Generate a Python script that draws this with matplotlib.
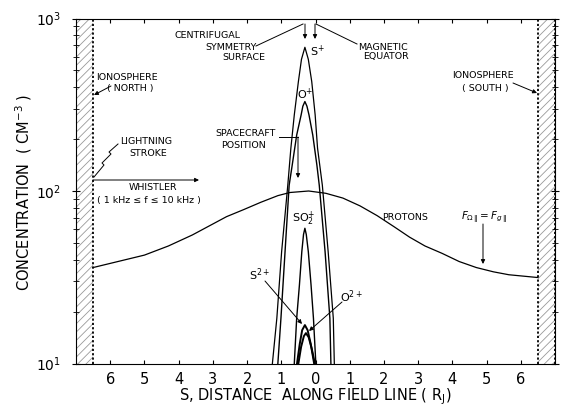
import matplotlib
matplotlib.use('Agg')
import matplotlib.pyplot as plt
from matplotlib.lines import Line2D
from matplotlib.ticker import LogLocator, NullFormatter

W, H = 562, 408

# ---- data ----
proton_s = [-6.5, -5.0, -4.3, -3.6, -2.6, -2.1, -1.6, -1.1, -0.75, -0.2, 0.3, 0.8,
            1.3, 1.8, 2.3, 2.75, 3.2, 3.7, 4.2, 4.7, 5.2, 5.65, 6.5]
proton_n = [36, 42.5, 48, 55.6, 71, 78, 86, 94, 98, 100, 97, 91,
            82, 72, 62, 54, 48, 43.5, 39, 36, 34, 32.7, 31.5]

splus_s = [-1.26, -1.13, -0.99, -0.81, -0.72, -0.62, -0.50, -0.41, -0.31, -0.21,
           -0.11, -0.01, 0.06, 0.20, 0.37, 0.52, 0.55]
splus_n = [10, 18.3, 44.5, 108, 177, 276, 431, 580, 681, 580,
           431, 276, 177, 108, 44.5, 18.3, 10]

oplus_s = [-1.10, -1.01, -0.89, -0.77, -0.68, -0.55, -0.42, -0.37, -0.31, -0.25,
           -0.19, -0.08, 0.04, 0.11, 0.28, 0.42, 0.45]
oplus_n = [10, 18.3, 44.5, 108, 141.6, 211, 276, 310, 330, 310,
           276, 211, 141.6, 108, 44.5, 18.3, 10]

so2_s = [-0.62, -0.55, -0.47, -0.40, -0.35, -0.31, -0.27, -0.21, -0.13, -0.06, 0.01]
so2_n = [10, 18.3, 28.5, 44.5, 56, 60.8, 56, 44.5, 28.5, 18.3, 10]

s2_s = [-0.54, -0.46, -0.39, -0.31, -0.23, -0.14, -0.04]
s2_n = [10, 13, 15.6, 16.7, 15.6, 13, 10]

o2_s = [-0.50, -0.42, -0.34, -0.28, -0.20, -0.11, -0.02]
o2_n = [10, 12.5, 14.4, 15, 14.2, 12.2, 10]

xtick_pos = [-6, -5, -4, -3, -2, -1, 0, 1, 2, 3, 4, 5, 6]
xtick_labels = ['6', '5', '4', '3', '2', '1', '0', '1', '2', '3', '4', '5', '6']
ytick_pos = [10, 100, 1000]
ytick_labels = ['$10^{1}$', '$10^{2}$', '$10^{3}$']

iono_north = (-7.0, -6.5)
iono_south = (6.5, 7.0)

# ---- styling ----
FONT = ['DejaVu Sans']
plt.rcParams['font.family'] = FONT
plt.rcParams['mathtext.fontset'] = 'dejavusans'
plt.rcParams['hatch.color'] = '#9a9a9a'
plt.rcParams['hatch.linewidth'] = 0.6

fig = plt.figure(figsize=(W / 100, H / 100), dpi=100)
ax = fig.add_axes([76 / W, 1 - 363.5 / H, (555 - 76) / W, (363.5 - 18.5) / H])

ax.set_yscale('log')
ax.set_xlim(-7, 7)
ax.set_ylim(10, 1000)

# ionosphere bands
for lo, hi in (iono_north, iono_south):
    ax.axvspan(lo, hi, facecolor='white', hatch='////', edgecolor='#9a9a9a', lw=0)
    ax.axvline(lo, color='black', ls=(0, (1.2, 1.2)), lw=1.3)
    ax.axvline(hi, color='black', ls=(0, (1.2, 1.2)), lw=1.3)

lw = 0.9
ax.plot(proton_s, proton_n, color='black', lw=lw)
ax.plot(splus_s, splus_n, color='black', lw=lw)
ax.plot(oplus_s, oplus_n, color='black', lw=1.0)
ax.plot(so2_s, so2_n, color='black', lw=1.0)
ax.plot(s2_s, s2_n, color='black', lw=1.4)
ax.plot(o2_s, o2_n, color='black', lw=1.4)

ax.set_xticks(xtick_pos)
ax.set_xticklabels(xtick_labels, fontsize=10.5)
ax.set_yticks(ytick_pos)
ax.set_yticklabels(ytick_labels, fontsize=10)
ax.yaxis.set_minor_locator(LogLocator(base=10, subs=range(2, 10)))
ax.yaxis.set_minor_formatter(NullFormatter())
ax.tick_params(axis='x', which='both', direction='in', top=True, length=3, pad=6)
ax.tick_params(axis='y', which='major', direction='inout', right=True, length=6, pad=8)
ax.tick_params(axis='y', which='minor', direction='inout', right=True, length=4)
for sp in ax.spines.values():
    sp.set_linewidth(0.8)


def F(px, py):
    return (px / W, 1 - py / H)


fig.text(*F(315, 397), 'S, DISTANCE  ALONG FIELD LINE ( R$_{\\mathrm{J}}$)',
         ha='center', va='center', fontsize=10.5)
fig.text(*F(24, 192), 'CONCENTRATION  ( CM$^{-3}$ )', rotation=90,
         ha='center', va='center', fontsize=10.5)


def txt(px, py, s, size=6.8, ha='center'):
    fig.text(*F(px, py), s, ha=ha, va='center', fontsize=size)


def line(pts, arrow=False, lw=0.7):
    if arrow:
        xs = [F(*p) for p in pts]
        for a, b in zip(xs[:-2], xs[1:-1]):
            fig.add_artist(Line2D([a[0], b[0]], [a[1], b[1]], transform=fig.transFigure,
                                  color='black', lw=lw))
        fig.add_artist(matplotlib.patches.FancyArrowPatch(
            xs[-2], xs[-1], transform=fig.transFigure, arrowstyle='-|>',
            mutation_scale=6, color='black', lw=lw, shrinkA=0, shrinkB=0))
    else:
        xs = [F(*p)[0] for p in pts]
        ys = [F(*p)[1] for p in pts]
        fig.add_artist(Line2D(xs, ys, transform=fig.transFigure, color='black', lw=lw))


# centrifugal symmetry surface
txt(208, 35, 'CENTRIFUGAL')
txt(231, 47, 'SYMMETRY')
txt(244, 58, 'SURFACE')
line([(256, 46), (303, 24)])
line([(305, 24), (305, 39)], arrow=True)
# magnetic equator
txt(383, 47, 'MAGNETIC')
txt(386, 57, 'EQUATOR')
line([(316, 24), (357, 44)])
line([(315, 24), (315, 39)], arrow=True)

# ion labels
txt(317, 51, 'S$^{+}$', size=8)
txt(305, 94, 'O$^{+}$', size=8)
txt(304, 219, 'SO$_{2}^{+}$', size=8)
txt(260, 275, 'S$^{2+}$', size=8)
txt(351, 297, 'O$^{2+}$', size=8)
line([(265, 281), (302, 324)], arrow=True)
line([(342, 302), (309, 331)], arrow=True)

# spacecraft position
txt(246, 133, 'SPACECRAFT')
txt(243, 145, 'POSITION')
line([(279, 137), (298, 137), (298, 178)], arrow=True)

# ionospheres
txt(127, 77, 'IONOSPHERE')
txt(130, 88, '( NORTH )')
line([(111, 86), (94, 95)], arrow=True)
txt(483, 76, 'IONOSPHERE')
txt(485, 88, '( SOUTH )')
line([(513, 83), (537, 93)], arrow=True)

# lightning + whistler
txt(146, 142, 'LIGHTNING')
txt(148, 153, 'STROKE')
line([(118, 144), (109, 152), (111, 154), (102, 163), (104, 165), (94, 177)])
line([(93, 180), (199, 180)], arrow=True)
txt(153, 188, 'WHISTLER')
txt(149, 201, '( 1 kHz \u2264 f \u2264 10 kHz )')

# protons and force balance
txt(405, 218, 'PROTONS')
txt(484, 217, '$F_{\\Omega\\,\\Vert} = F_{g\\,\\Vert}$', size=7.5)
line([(483, 224), (483, 264)], arrow=True)

fig.savefig('out.png', dpi=100)
